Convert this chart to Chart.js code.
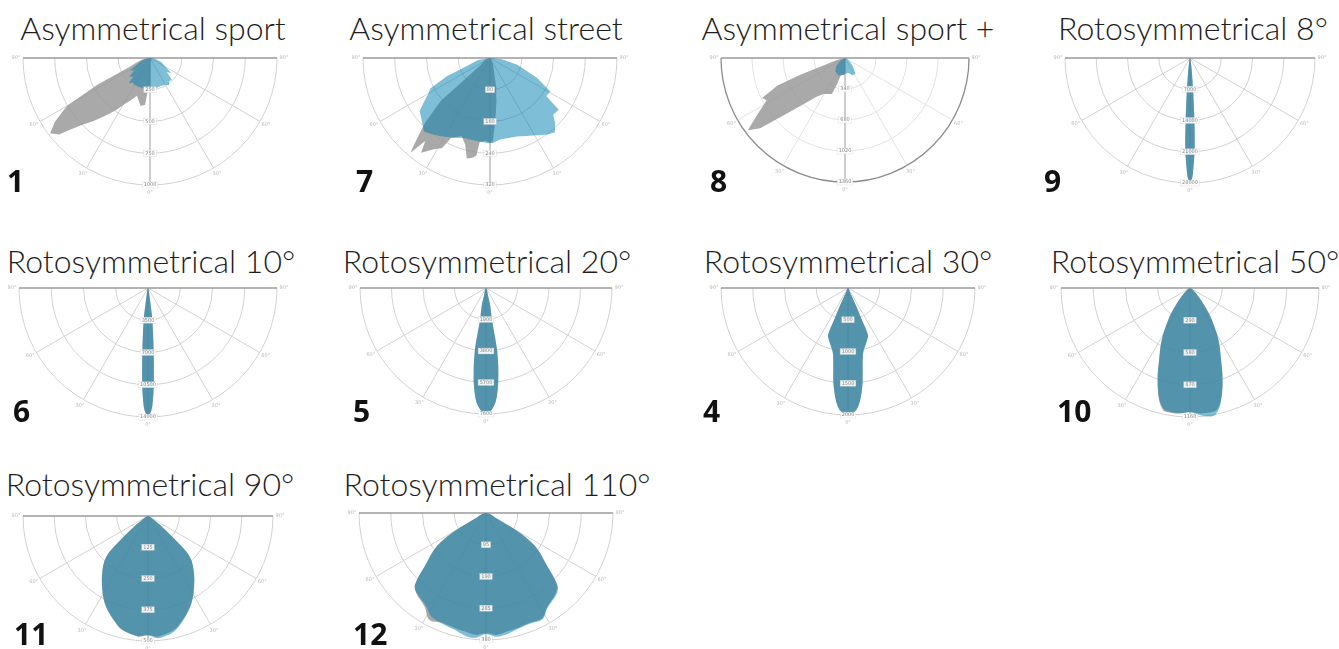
<!DOCTYPE html>
<html>
<head>
<meta charset="utf-8">
<script src="https://cdn.jsdelivr.net/npm/chart.js@4.4.1/dist/chart.umd.min.js"></script>
<style>
  body { margin: 0; background: #fff; }
  #board { position: relative; width: 1339px; height: 649px; overflow: hidden; }
  .title { position: absolute; width: 400px; text-align: center; font-family: Lato, "Open Sans", sans-serif; font-weight: 300; font-size: 32px; line-height: 32px; color: #1e1e1e; white-space: nowrap; }
  .num { position: absolute; font-family: "Open Sans", Lato, sans-serif; font-weight: 700; font-size: 30px; line-height: 30px; color: #111; }
  canvas { position: absolute; }
</style>
</head>
<body>
<div id="board"></div>
<script>
// gamma angles (deg, left negative) and intensities (cd) per plane
// gray = C0-C180 plane, blue = C90-C270 plane

// 1 - Asymmetrical sport
const c1Ticks = [250, 500, 750, 1000];
const c1GrayGamma = [-90, -80, -70, -67, -63, -60, -56, -53, -50, -46, -42, -37, -33, -29, -24, -19, -15, -11, -6, -4, 0, 3, 10, 30, 60, 90];
const c1GrayCd = [0, 63, 126, 165, 465, 756, 906, 984, 937, 764, 669, 559, 488, 417, 362, 315, 346, 386, 370, 260, 236, 30, 24, 20, 12, 0];
const c1BlueGamma = [-90, -80, -70, -62, -58, -52, -48, -42, -40, -35, -30, -20, -10, 0, 10, 20, 30, 35, 40, 45, 50, 55, 60, 70, 80, 90];
const c1BlueCd = [0, 39, 79, 126, 189, 157, 220, 197, 260, 236, 244, 244, 244, 244, 244, 236, 244, 260, 236, 244, 173, 205, 142, 94, 39, 0];

// 7 - Asymmetrical street
const c7Ticks = [80, 160, 240, 320];
const c7GrayGamma = [-90, -70, -55, -51, -49, -45, -42, -40, -38, -36, -32, -28, -26, -22, -20, -16, -13, -10, -8, -7, -3, 0, 2, 4, 6, 9, 12, 20, 30, 90];
const c7GrayCd = [0, 13, 25, 50, 164, 232, 277, 312, 265, 295, 272, 257, 224, 214, 209, 227, 260, 255, 249, 214, 209, 214, 209, 171, 139, 106, 76, 25, 13, 0];
const c7BlueGamma = [-90, -80, -70, -67, -63, -60, -56, -53, -48, -42, -38, -33, -25, -18, -10, -2, 2, 7, 13, 19, 25, 31, 36, 41, 45, 48, 53, 56, 61, 67, 76, 84, 90];
const c7BlueCd = [0, 30, 71, 118, 169, 179, 202, 222, 232, 249, 242, 234, 222, 212, 212, 214, 214, 207, 207, 209, 217, 227, 239, 249, 232, 214, 217, 171, 174, 129, 71, 30, 0];

// 8 - Asymmetrical sport +
const c8Ticks = [340, 680, 1020, 1360];
const c8GrayGamma = [-90, -80, -75, -71, -69.5, -67.8, -64.3, -61.7, -57, -53.4, -50.4, -44.8, -36, -30.6, -20, -17, -14, -10, -5, 0, 5, 90];
const c8GrayCd = [0, 40, 100, 250, 523, 800, 1009, 976, 1150, 1327, 1207, 799, 521, 459, 420, 300, 200, 190, 190, 180, 0, 0];
const c8BlueGamma = [-90, -60, -47, -36, -20, -7, 0, 14, 22, 33, 41, 50, 65, 90];
const c8BlueCd = [0, 60, 134, 181, 206, 184, 172, 169, 205, 208, 145, 86, 30, 0];

// 9 - Rotosymmetrical 8°
const c9Ticks = [7000, 14000, 21000, 28000];
const c9Gamma = [-90, -30, -15, -8.5, -5.7, -4.1, -3, -1.8, -1, 0, 1, 1.8, 3, 4.1, 5.7, 8.5, 15, 30, 90];
const c9GrayCd = [0, 0, 400, 2260, 6700, 13500, 20200, 24600, 26900, 27800, 26900, 24600, 20200, 13500, 6700, 2260, 400, 0, 0];
const c9BlueCd = [0, 0, 420, 2300, 6800, 13400, 20300, 24700, 27000, 27900, 27000, 24500, 20100, 13600, 6800, 2300, 420, 0, 0];

// 6 - Rotosymmetrical 10°
const c6Ticks = [3500, 7000, 10500, 14000];
const c6Gamma = [-90, -25, -15, -9.5, -7.7, -5, -3.4, -2.1, -1.1, 0, 1.1, 2.1, 3.4, 5, 7.7, 9.5, 15, 25, 90];
const c6GrayCd = [0, 0, 300, 1320, 3500, 7070, 10550, 12800, 13560, 13890, 13560, 12800, 10550, 7070, 3500, 1320, 300, 0, 0];
const c6BlueCd = [0, 0, 310, 1350, 3550, 7100, 10600, 12850, 13600, 13950, 13600, 12850, 10600, 7100, 3550, 1350, 310, 0, 0];

// 5 - Rotosymmetrical 20°
const c5Ticks = [1900, 3800, 5700, 7600];
const c5Gamma = [-90, -25, -15, -13.6, -10.7, -10, -7.4, -4.8, -1.8, 0, 1.8, 4.8, 7.4, 10, 10.7, 13.6, 15, 25, 90];
const c5GrayCd = [0, 120, 460, 1070, 1880, 3920, 5720, 6900, 7480, 7580, 7480, 6900, 5720, 3920, 1880, 1070, 460, 120, 0];
const c5BlueCd = [0, 120, 470, 1090, 1900, 3950, 5750, 6920, 7500, 7600, 7500, 6920, 5750, 3950, 1900, 1090, 470, 120, 0];

// 4 - Rotosymmetrical 30°
const c4Ticks = [500, 1000, 1500, 2000];
const c4Gamma = [-90, -35, -26, -24.5, -23.5, -23, -20, -13, -8.7, -6.2, -3.9, 0, 3.9, 6.2, 8.7, 13, 20, 23, 23.5, 24.5, 26, 35, 90];
const c4GrayCd = [0, 20, 50, 315, 550, 800, 870, 1050, 1510, 1770, 1920, 2000, 1920, 1770, 1510, 1050, 870, 800, 550, 315, 50, 20, 0];
const c4BlueCd = [0, 20, 55, 320, 560, 810, 880, 1060, 1520, 1780, 1930, 2010, 1930, 1780, 1520, 1060, 880, 810, 560, 320, 55, 20, 0];

// 10 - Rotosymmetrical 50°
const c10Ticks = [290, 580, 870, 1160];
const c10Gamma = [-90, -55, -45, -39, -34.4, -28.7, -23.4, -19.5, -15.5, -12.4, -10, -5, 0, 5, 10, 12.4, 15.5, 19.5, 23.4, 28.7, 34.4, 39, 45, 55, 90];
const c10GrayCd = [0, 36, 108, 212, 345, 530, 701, 875, 1043, 1125, 1135, 1133, 1115, 1133, 1133, 1120, 1043, 875, 701, 530, 345, 212, 108, 36, 0];
const c10BlueCd = [0, 36, 108, 212, 345, 525, 695, 870, 1035, 1110, 1125, 1130, 1118, 1150, 1170, 1145, 1050, 880, 705, 535, 350, 215, 110, 36, 0];

// 11 - Rotosymmetrical 90°
const c11Ticks = [125, 250, 375, 500];
const c11Gamma = [-90, -65, -56, -52.6, -48.9, -45.7, -38.6, -30.4, -24.8, -18.4, -12.8, -7.2, -4.4, 0, 4.4, 7.2, 12.8, 18.4, 24.8, 30.4, 38.6, 45.7, 48.9, 52.6, 56, 65, 90];
const c11GrayCd = [0, 8, 29, 70, 146, 233, 294, 358, 400, 438, 468, 480, 484, 476, 484, 480, 468, 438, 400, 358, 294, 233, 146, 70, 29, 8, 0];
const c11BlueCd = [0, 8, 29, 70, 146, 233, 294, 358, 400, 436, 466, 478, 482, 478, 490, 488, 474, 442, 402, 360, 296, 234, 147, 70, 29, 8, 0];

// 12 - Rotosymmetrical 110°
const c12Ticks = [95, 190, 285, 380];
const c12Gamma = [-90, -75, -64, -60, -56, -49, -44.6, -41, -33, -28, -21.5, -15, -10, -5, 0, 5, 10, 15, 21.5, 28, 33, 41, 44.6, 49, 56, 60, 64, 75, 90];
const c12GrayCd = [0, 12, 30, 105, 177, 243, 303, 318, 336, 362, 354, 357, 360, 366, 360, 366, 360, 357, 354, 357, 336, 318, 303, 243, 177, 105, 30, 12, 0];
const c12BlueCd = [0, 12, 30, 105, 177, 243, 303, 316, 330, 350, 356, 362, 372, 375, 362, 372, 368, 360, 356, 360, 338, 322, 305, 243, 177, 105, 30, 12, 0];

const angleLabels = ['90°', '60°', '30°', '0°'];

// panel list: label, title, ticks, gray plane, blue plane
const panels = [
  ['1', 'Asymmetrical sport', c1Ticks, c1GrayGamma, c1GrayCd, c1BlueGamma, c1BlueCd],
  ['7', 'Asymmetrical street', c7Ticks, c7GrayGamma, c7GrayCd, c7BlueGamma, c7BlueCd],
  ['8', 'Asymmetrical sport +', c8Ticks, c8GrayGamma, c8GrayCd, c8BlueGamma, c8BlueCd],
  ['9', 'Rotosymmetrical 8°', c9Ticks, c9Gamma, c9GrayCd, c9Gamma, c9BlueCd],
  ['6', 'Rotosymmetrical 10°', c6Ticks, c6Gamma, c6GrayCd, c6Gamma, c6BlueCd],
  ['5', 'Rotosymmetrical 20°', c5Ticks, c5Gamma, c5GrayCd, c5Gamma, c5BlueCd],
  ['4', 'Rotosymmetrical 30°', c4Ticks, c4Gamma, c4GrayCd, c4Gamma, c4BlueCd],
  ['10', 'Rotosymmetrical 50°', c10Ticks, c10Gamma, c10GrayCd, c10Gamma, c10BlueCd],
  ['11', 'Rotosymmetrical 90°', c11Ticks, c11Gamma, c11GrayCd, c11Gamma, c11BlueCd],
  ['12', 'Rotosymmetrical 110°', c12Ticks, c12Gamma, c12GrayCd, c12Gamma, c12BlueCd]
];

// layout: centre x, top line y, radius px, title centre x, title baseline, number left, number baseline, curve tension
const layout = [
  [150, 58, 127, 153, 40, 7, 193, 0],
  [490, 58, 127, 486, 40, 356, 193, 0],
  [845, 58, 124, 848, 40, 710, 193, 0],
  [1190, 58, 125, 1193, 40, 1044, 193, 0.3],
  [148, 288, 129, 151, 273, 13, 423, 0.3],
  [486, 288, 126, 487, 273, 353, 423, 0.3],
  [848, 288, 127, 848, 273, 703, 423, 0.3],
  [1190, 288, 129, 1195, 273, 1057, 423, 0.35],
  [148, 516, 125, 150, 496, 14, 646, 0.35],
  [486, 513, 127, 497, 496, 353, 646, 0.35]
];

function toXY(gamma, cd) {
  return gamma.map((g, i) => {
    const a = g * Math.PI / 180;
    return { x: cd[i] * Math.sin(a), y: -cd[i] * Math.cos(a) };
  });
}

const polarGrid = {
  id: 'polarGrid',
  beforeDatasetsDraw(chart, args, opts) {
    const { ctx, scales: { x, y } } = chart;
    const cx = x.getPixelForValue(0);
    const cy = y.getPixelForValue(0);
    const px = v => x.getPixelForValue(v) - cx;
    const ticks = opts.ticks;
    const R = px(ticks[ticks.length - 1]);
    ctx.save();
    ticks.forEach((t, i) => {
      const outer = i === ticks.length - 1;
      ctx.strokeStyle = outer ? opts.outerColor : opts.ringColor;
      ctx.lineWidth = outer ? opts.outerWidth : 1;
      ctx.beginPath();
      ctx.arc(cx, cy, px(t), 0, Math.PI);
      ctx.stroke();
    });
    ctx.lineWidth = 1;
    ctx.strokeStyle = opts.ringColor;
    [-60, -30, 30, 60].forEach(g => {
      const a = g * Math.PI / 180;
      ctx.beginPath();
      ctx.moveTo(cx, cy);
      ctx.lineTo(cx + R * Math.sin(a), cy + R * Math.cos(a));
      ctx.stroke();
    });
    ctx.strokeStyle = '#9c9c9c';
    ctx.beginPath();
    ctx.moveTo(cx, cy);
    ctx.lineTo(cx, cy + R);
    ctx.stroke();
    ctx.lineWidth = 1.4;
    ctx.strokeStyle = '#9a9a9a';
    ctx.beginPath();
    ctx.moveTo(cx - R, cy);
    ctx.lineTo(cx + R, cy);
    ctx.stroke();
    ctx.restore();
  },
  afterDatasetsDraw(chart, args, opts) {
    const { ctx, scales: { x, y } } = chart;
    const cx = x.getPixelForValue(0);
    const cy = y.getPixelForValue(0);
    const px = v => x.getPixelForValue(v) - cx;
    const ticks = opts.ticks;
    const R = px(ticks[ticks.length - 1]);
    ctx.save();
    ctx.font = '5px "DejaVu Sans", sans-serif';
    ctx.textAlign = 'center';
    ctx.textBaseline = 'middle';
    ticks.forEach(t => {
      const label = String(t);
      const w = ctx.measureText(label).width + 3;
      const yy = cy + px(t);
      ctx.fillStyle = 'rgba(255,255,255,0.9)';
      ctx.fillRect(cx - w / 2, yy - 3, w, 6);
      ctx.strokeStyle = 'rgba(200,200,200,0.6)';
      ctx.lineWidth = 0.5;
      ctx.strokeRect(cx - w / 2, yy - 3, w, 6);
      ctx.fillStyle = '#8a8a8a';
      ctx.fillText(label, cx, yy);
    });
    ctx.fillStyle = '#b8b8b8';
    const off = R + 7;
    [90, 60, 30].forEach((g, i) => {
      const a = g * Math.PI / 180;
      ctx.fillText(angleLabels[i], cx - off * Math.sin(a), cy + off * Math.cos(a));
      ctx.fillText(angleLabels[i], cx + off * Math.sin(a), cy + off * Math.cos(a));
    });
    ctx.fillText(angleLabels[3], cx, cy + off + 1);
    ctx.restore();
  }
};

const board = document.getElementById('board');

panels.forEach((p, k) => {
  const [label, title, ticks, grayGamma, grayCd, blueGamma, blueCd] = p;
  const [cx, cy, R, tx, tBase, nx, nBase, tension] = layout[k];
  const max = ticks[ticks.length - 1];
  const ext = max * (R + 8) / R;

  const t = document.createElement('div');
  t.className = 'title';
  t.textContent = title;
  t.style.left = (tx - 200) + 'px';
  t.style.top = (tBase - 28.4) + 'px';
  board.appendChild(t);

  const canvas = document.createElement('canvas');
  canvas.width = 2 * R + 32;
  canvas.height = R + 16;
  canvas.style.left = (cx - R - 16) + 'px';
  canvas.style.top = (cy - 4) + 'px';
  board.appendChild(canvas);

  new Chart(canvas.getContext('2d'), {
    type: 'scatter',
    data: {
      datasets: [
        {
          label: 'C90-C270',
          data: toXY(blueGamma, blueCd),
          showLine: true,
          fill: 'shape',
          backgroundColor: 'rgba(0,125,176,0.5)',
          borderWidth: 0,
          pointRadius: 0,
          tension: tension
        },
        {
          label: 'C0-C180',
          data: toXY(grayGamma, grayCd),
          showLine: true,
          fill: 'shape',
          backgroundColor: 'rgba(150,150,150,0.82)',
          borderWidth: 0,
          pointRadius: 0,
          tension: tension
        }
      ]
    },
    options: {
      responsive: false,
      animation: false,
      devicePixelRatio: 1,
      events: [],
      layout: { padding: { left: 8, right: 8, top: 4, bottom: 4 } },
      scales: {
        x: { type: 'linear', min: -ext, max: ext, display: false },
        y: { type: 'linear', min: -ext, max: 0, display: false }
      },
      plugins: {
        legend: { display: false },
        tooltip: { enabled: false },
        polarGrid: {
          ticks: ticks,
          ringColor: label === '8' ? '#e2e2e2' : '#d2d2d2',
          outerColor: label === '8' ? '#8c8c8c' : '#d2d2d2',
          outerWidth: label === '8' ? 1.3 : 1
        }
      }
    },
    plugins: [polarGrid]
  });

  const n = document.createElement('div');
  n.className = 'num';
  n.textContent = label;
  n.style.left = nx + 'px';
  n.style.top = (nBase - 26.6) + 'px';
  board.appendChild(n);
});
</script>
</body>
</html>
